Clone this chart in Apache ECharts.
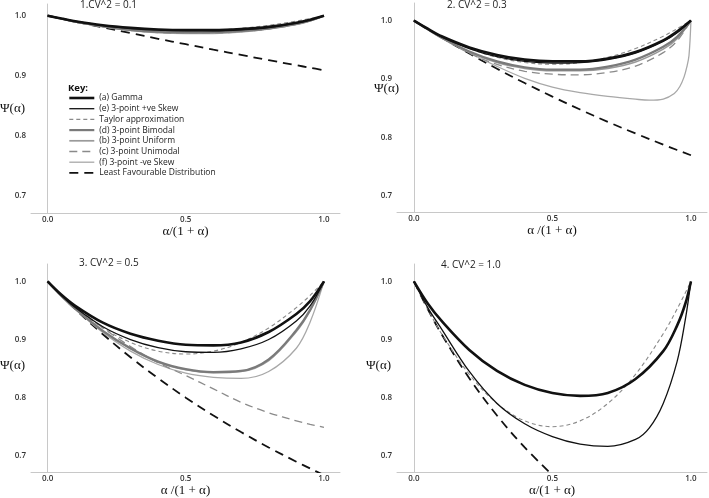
<!DOCTYPE html>
<html>
<head>
<meta charset="utf-8">
<script src="https://cdn.jsdelivr.net/npm/echarts@6/dist/echarts.min.js"></script>
<style>html,body{margin:0;padding:0;background:#fff}#c{width:709px;height:498px}</style>
</head>
<body>
<div id="c"></div>
<script>
// ---------- data ----------
const seriesNames = ['(a) Gamma', '(e) 3-point +ve Skew', 'Taylor approximation', '(d) 3-point Bimodal',
  '(b) 3-point Uniform', '(c) 3-point Unimodal', '(f) 3-point -ve Skew', 'Least Favourable Distribution'];
const panelTitles = ['1.CV^2 = 0.1', '2. CV^2 = 0.3', '3. CV^2 = 0.5', '4. CV^2 = 1.0'];
const xAxisNames = ['α/(1 + α)', 'α /(1 + α)', 'α /(1 + α)', 'α/(1 + α)'];
const yAxisName = 'Ψ(α)';
const xTicks = [0, 0.5, 1];
const yTicks = [0.7, 0.8, 0.9, 1.0];

const xs = [0, 0.05, 0.1, 0.2, 0.3, 0.4, 0.5, 0.6, 0.7, 0.8, 0.9, 0.95, 1];

// Panel 1: CV^2 = 0.1
const p1Gamma   = [1, .9952, .9907, .9841, .9797, .9769, .9759, .9759, .9776, .9814, .9883, .9934, 1];
const p1PosSkew = [1, .9950, .9905, .9835, .9788, .9760, .9750, .9750, .9768, .9807, .9877, .9930, 1];
const p1Taylor  = [1, .9953, .9910, .9840, .9790, .9760, .9750, .9760, .9790, .9840, .9910, .9953, 1];
const p1Bimodal = [1, .9950, .9900, .9825, .9765, .9732, .9722, .9725, .9745, .9790, .9865, .9920, 1];
const p1Uniform = [1, .9950, .9898, .9822, .9760, .9727, .9715, .9718, .9740, .9785, .9860, .9918, 1];
const p1Unimodal= [1, .9950, .9895, .9820, .9755, .9720, .9708, .9710, .9733, .9780, .9855, .9915, 1];
const p1NegSkew = [1, .9950, .9893, .9815, .9750, .9713, .9700, .9702, .9725, .9775, .9850, .9910, 1];
const p1LFD     = [1, .9952, .9901, .9804, .9709, .9615, .9524, .9434, .9346, .9259, .9174, .9132, .9091];

// Panel 2: CV^2 = 0.3
const p2Gamma   = [1, .986, .973, .954, .941, .933, .930, .930, .935, .946, .966, .981, 1];
const p2PosSkew = [1, .985, .972, .952, .938, .930, .927, .928, .933, .944, .964, .979, 1];
const p2Taylor  = [1, .986, .973, .952, .937, .928, .925, .928, .937, .952, .973, .986, 1];
const p2Bimodal = [1, .985, .971, .947, .930, .920, .916, .916, .921, .933, .955, .972, 1];
const p2Uniform = [1, .985, .970, .946, .928, .918, .914, .914, .918, .929, .951, .969, 1];
const p2Unimodal= [1, .985, .970, .944, .925, .913, .908, .907, .911, .922, .945, .965, 1];
const p2NegSkewX= [0, .05, .1, .2, .3, .4, .5, .6, .7, .8, .85, .9, .94, .96, .975, .985, .993, 1];
const p2NegSkew = [1, .9855, .9712, .9448, .9215, .9010, .8860, .8765, .8700, .8652, .8635, .8655, .8750, .8870, .9030, .9200, .9400, 1];
const p2LFD     = [1, .9852, .9709, .9434, .9174, .8929, .8696, .8475, .8264, .8065, .7874, .7782, .7692];

// Panel 3: CV^2 = 0.5
const p3Gamma   = [1, .977, .958, .929, .910, .898, .891, .890, .895, .913, .944, .966, 1];
const p3PosSkew = [1, .976, .955, .922, .900, .886, .879, .878, .884, .900, .932, .958, 1];
const p3Taylor  = [1, .976, .955, .920, .895, .880, .875, .880, .895, .920, .955, .976, 1];
const p3Bimodal = [1, .975, .953, .915, .885, .862, .849, .844, .846, .866, .916, .951, 1];
const p3Uniform = [1, .975, .953, .914, .884, .861, .848, .843, .845, .864, .914, .950, 1];
const p3Unimodal= [1, .976, .957, .920, .888, .860, .838, .815, .792, .774, .760, .754, .749];
const p3NegSkew = [1, .975, .952, .912, .880, .857, .842, .835, .833, .845, .885, .930, 1];
const p3LFD     = [1, .9756, .9524, .9091, .8696, .8333, .8000, .7692, .7407, .7143, .6897, .6780, .6667];

// Panel 4: CV^2 = 1.0
const p4GammaX  = [0, .05, .1, .2, .3, .4, .5, .6, .7, .8, .9, .95, .98, 1];
const p4Gamma   = [1, .962, .932, .882, .846, .822, .808, .803, .808, .832, .880, .924, .962, 1];
const p4PosSkewX= [0, .05, .1, .2, .3, .4, .5, .6, .7, .8, .85, .9, .95, .98, 1];
const p4PosSkew = [1, .955, .918, .845, .790, .755, .733, .720, .716, .728, .748, .790, .862, .935, 1];
const p4Taylor  = [1, .9525, .910, .840, .790, .760, .750, .760, .790, .840, .910, .9525, 1];
const p4LFDX    = [0, .05, .1, .2, .3, .4, .5];
const p4LFD     = [1, .9524, .9091, .8333, .7692, .7143, .6667];

// ---------- styles ----------
const styles = {
  '(a) Gamma': {color: '#111', width: 2.6, type: 'solid'},
  '(e) 3-point +ve Skew': {color: '#111', width: 1.3, type: 'solid'},
  'Taylor approximation': {color: '#8a8a8a', width: 1.1, type: [4, 3]},
  '(d) 3-point Bimodal': {color: '#7a7a7a', width: 2.2, type: 'solid'},
  '(b) 3-point Uniform': {color: '#9a9a9a', width: 1.7, type: 'solid'},
  '(c) 3-point Unimodal': {color: '#8a8a8a', width: 1.3, type: [8, 5]},
  '(f) 3-point -ve Skew': {color: '#a8a8a8', width: 1.3, type: 'solid'},
  'Least Favourable Distribution': {color: '#111', width: 1.8, type: [9, 6]}
};

const panels = [
  {x: [xs, xs, xs, xs, xs, xs, xs, xs],
   y: [p1Gamma, p1PosSkew, p1Taylor, p1Bimodal, p1Uniform, p1Unimodal, p1NegSkew, p1LFD]},
  {x: [xs, xs, xs, xs, xs, xs, p2NegSkewX, xs],
   y: [p2Gamma, p2PosSkew, p2Taylor, p2Bimodal, p2Uniform, p2Unimodal, p2NegSkew, p2LFD]},
  {x: [xs, xs, xs, xs, xs, xs, xs, xs],
   y: [p3Gamma, p3PosSkew, p3Taylor, p3Bimodal, p3Uniform, p3Unimodal, p3NegSkew, p3LFD]},
  {x: [p4GammaX, p4PosSkewX, xs, [], [], [], [], p4LFDX],
   y: [p4Gamma, p4PosSkew, p4Taylor, [], [], [], [], p4LFD]}
];

const grids = [
  {left: 31, top: 4, width: 309, height: 209, xmin: -0.06, xmax: 1.058, ymin: 0.671, ymax: 1.0195},
  {left: 397, top: 3, width: 310, height: 209, xmin: -0.061, xmax: 1.058, ymin: 0.672, ymax: 1.030},
  {left: 31, top: 264, width: 309, height: 208, xmin: -0.06, xmax: 1.058, ymin: 0.672, ymax: 1.030},
  {left: 397, top: 264, width: 310, height: 208, xmin: -0.061, xmax: 1.058, ymin: 0.672, ymax: 1.030}
];
const titlePos = [[80, 0], [447, 0], [79, 258], [441, 260]];
const yNamePos = [[0, 102], [374, 82], [0, 359], [366, 359]];

const tickFont = {fontSize: 8, color: '#333', fontFamily: 'Open Sans', fontWeight: 600};
const axisLine = {show: true, lineStyle: {color: '#c8c8c8', width: 1}};

const option = {
  animation: false,
  backgroundColor: '#fff',
  title: [],
  grid: [], xAxis: [], yAxis: [], series: [],
  legend: {
    data: seriesNames, orient: 'vertical', left: 68, top: 93, padding: 0,
    itemWidth: 25, itemHeight: 10, itemGap: 0.7,
    selectedMode: false,
    textStyle: {fontSize: 8.5, color: '#222', fontFamily: 'Open Sans', lineHeight: 10},
    itemStyle: {color: 'rgba(0,0,0,0)', borderWidth: 0, opacity: 0},
    lineStyle: {width: 'inherit', type: 'inherit'}
  }
};

option.title.push({text: 'Key:', left: 68, top: 83, padding: 0,
  textStyle: {fontSize: 9.5, fontWeight: 'bold', color: '#111', fontFamily: 'Open Sans'}});

grids.forEach((g, i) => {
  option.grid.push({left: g.left, top: g.top, width: g.width, height: g.height, containLabel: false});
  option.xAxis.push({
    type: 'value', gridIndex: i, min: g.xmin, max: g.xmax,
    axisLine: axisLine, axisTick: {show: false}, splitLine: {show: false},
    axisLabel: Object.assign({customValues: xTicks, margin: 3, formatter: v => v.toFixed(1)}, tickFont),
    name: xAxisNames[i], nameLocation: 'middle', nameGap: 12,
    nameTextStyle: {fontSize: 13, fontFamily: 'Liberation Serif', color: '#111', verticalAlign: 'top'}
  });
  option.yAxis.push({
    type: 'value', gridIndex: i, min: g.ymin, max: g.ymax,
    axisLine: axisLine, axisTick: {show: false}, splitLine: {show: false},
    axisLabel: Object.assign({customValues: yTicks, margin: 5, formatter: v => v.toFixed(1)}, tickFont)
  });
  option.title.push({text: panelTitles[i], left: titlePos[i][0], top: titlePos[i][1], padding: 0,
    textStyle: {fontSize: 10, fontWeight: 'normal', color: '#222', fontFamily: 'Open Sans'}});
  option.title.push({text: yAxisName, left: yNamePos[i][0], top: yNamePos[i][1], padding: 0,
    textStyle: {fontSize: 13, fontWeight: 'normal', color: '#111', fontFamily: 'Liberation Serif'}});
  seriesNames.forEach((name, k) => {
    const px = panels[i].x[k], py = panels[i].y[k];
    const st = styles[name];
    option.series.push({
      type: 'line', name: name, xAxisIndex: i, yAxisIndex: i,
      data: px.map((x, j) => [x, py[j]]),
      symbol: 'none', smooth: 0.35, clip: true,
      lineStyle: {color: st.color, width: st.width, type: st.type},
      itemStyle: {color: st.color},
      z: 10 - k
    });
  });
});

const chart = echarts.init(document.getElementById('c'), null, {renderer: 'canvas'});
chart.setOption(option);
</script>
</body>
</html>
